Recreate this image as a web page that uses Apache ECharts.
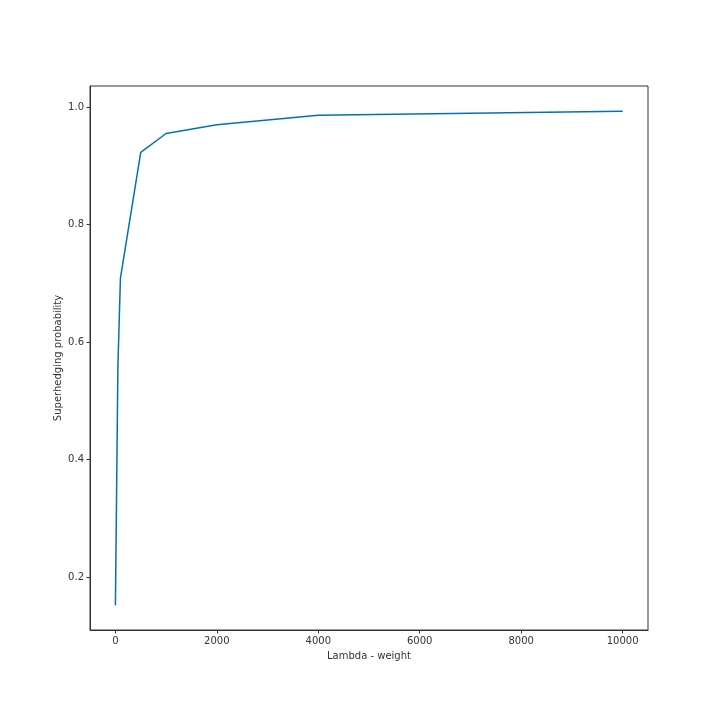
<!DOCTYPE html>
<html>
<head>
<meta charset="utf-8">
<script src="https://cdn.jsdelivr.net/npm/echarts@6/dist/echarts.min.js"></script>
<style>
  html, body { margin: 0; padding: 0; background: #fff; }
  #chart { width: 720px; height: 720px; }
</style>
</head>
<body>
<div id="chart"></div>
<script>
// lambda values and the probabilities
const lambdas = [1, 50, 100, 500, 1000, 2000, 4000, 10000];
const probs = [0.152, 0.558, 0.709, 0.923, 0.955, 0.970, 0.986, 0.993];
const xTicks = [0, 2000, 4000, 6000, 8000, 10000];
const yTicks = [0.2, 0.4, 0.6, 0.8, 1.0];

const axisColor = '#333';
const textStyle = { color: '#333', fontSize: 10, fontFamily: 'DejaVu Sans' };

const chart = echarts.init(document.getElementById('chart'));
chart.setOption({
  backgroundColor: '#fff',
  animation: false,
  grid: { left: 90, right: 72, top: 86, bottom: 90, show: true, borderColor: axisColor, borderWidth: 1 },
  xAxis: {
    type: 'value',
    min: -499.95,
    max: 10499.95,
    name: 'Lambda - weight',
    nameLocation: 'middle',
    nameGap: 21,
    nameTextStyle: textStyle,
    axisLine: { show: true, onZero: false, lineStyle: { color: axisColor } },
    axisTick: { show: true, length: 3.5, customValues: xTicks, lineStyle: { color: axisColor } },
    axisLabel: Object.assign({ customValues: xTicks, margin: 6, formatter: v => String(v) }, textStyle),
    splitLine: { show: false }
  },
  yAxis: {
    type: 'value',
    min: 0.11,
    max: 1.0358,
    name: 'Superhedging probability',
    nameLocation: 'middle',
    nameGap: 27,
    nameMoveOverlap: false,
    nameTextStyle: textStyle,
    axisLine: { show: true, onZero: false, lineStyle: { color: axisColor } },
    axisTick: { show: true, length: 3.5, customValues: yTicks, lineStyle: { color: axisColor } },
    axisLabel: Object.assign({ customValues: yTicks, margin: 6, formatter: v => v.toFixed(1) }, textStyle),
    splitLine: { show: false }
  },
  series: [{
    type: 'line',
    data: lambdas.map((x, i) => [x, probs[i]]),
    showSymbol: false,
    lineStyle: { color: '#0072B2', width: 1.5 },
    itemStyle: { color: '#0072B2' }
  }]
});
</script>
</body>
</html>
